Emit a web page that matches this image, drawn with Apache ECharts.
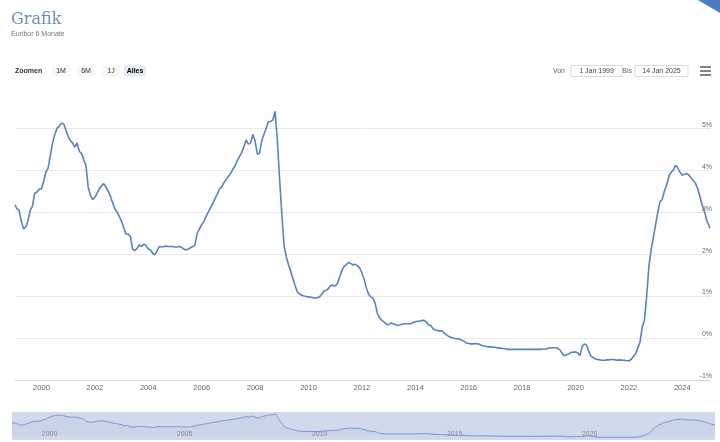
<!DOCTYPE html>
<html>
<head>
<meta charset="utf-8">
<script src="https://cdn.jsdelivr.net/npm/echarts@6/dist/echarts.min.js"></script>
<style>
  html, body { margin: 0; padding: 0; background: #fff; }
  #chart { width: 720px; height: 442px; }
</style>
</head>
<body>
<div id="chart"></div>
<script>
// Euribor 6 Monate, Monatswerte ab Jan 1999 (letzter Wert: 14 Jan 2025)
const rates = [
  3.17, 3.08, 3.04, 2.78, 2.60, 2.64, 2.80, 3.05, 3.15, 3.45, 3.48, 3.55,        // 1999
  3.55, 3.75, 3.95, 4.05, 4.35, 4.65, 4.85, 5.00, 5.05, 5.12, 5.10, 4.95,        // 2000
  4.80, 4.70, 4.65, 4.55, 4.65, 4.45, 4.40, 4.25, 4.10, 3.60, 3.40, 3.30,        // 2001
  3.35, 3.45, 3.55, 3.62, 3.68, 3.60, 3.50, 3.38, 3.22, 3.08, 3.00, 2.90,        // 2002
  2.78, 2.62, 2.48, 2.48, 2.42, 2.12, 2.08, 2.14, 2.22, 2.18, 2.24, 2.20,        // 2003
  2.12, 2.10, 2.02, 1.98, 2.08, 2.18, 2.17, 2.18, 2.19, 2.18, 2.18, 2.18,        // 2004
  2.17, 2.17, 2.18, 2.16, 2.12, 2.10, 2.12, 2.15, 2.18, 2.22, 2.50, 2.60,        // 2005
  2.70, 2.78, 2.90, 3.00, 3.10, 3.20, 3.32, 3.42, 3.55, 3.60, 3.70, 3.78,        // 2006
  3.85, 3.92, 4.02, 4.10, 4.22, 4.32, 4.42, 4.55, 4.72, 4.62, 4.65, 4.85,        // 2007
  4.70, 4.38, 4.40, 4.70, 4.85, 5.00, 5.15, 5.16, 5.20, 5.40, 4.70, 3.80,        // 2008
  2.95, 2.20, 1.95, 1.75, 1.60, 1.42, 1.25, 1.10, 1.05, 1.02, 1.00, 0.99,        // 2009
  0.98, 0.97, 0.96, 0.95, 0.96, 0.98, 1.05, 1.12, 1.14, 1.18, 1.25, 1.26,        // 2010
  1.24, 1.30, 1.45, 1.60, 1.70, 1.75, 1.80, 1.78, 1.74, 1.76, 1.72, 1.67,        // 2011
  1.55, 1.40, 1.20, 1.05, 0.98, 0.95, 0.82, 0.58, 0.48, 0.42, 0.38, 0.33,        // 2012
  0.32, 0.36, 0.34, 0.32, 0.30, 0.31, 0.33, 0.34, 0.34, 0.34, 0.34, 0.37,        // 2013
  0.39, 0.40, 0.40, 0.42, 0.42, 0.38, 0.31, 0.30, 0.22, 0.19, 0.18, 0.17,        // 2014
  0.17, 0.12, 0.08, 0.04, 0.02, 0.00, -0.01, -0.02, -0.03, -0.05, -0.08, -0.12,  // 2015
  -0.13, -0.14, -0.14, -0.13, -0.14, -0.15, -0.18, -0.19, -0.20, -0.21, -0.21, -0.22, // 2016
  -0.22, -0.24, -0.24, -0.25, -0.25, -0.26, -0.27, -0.27, -0.27, -0.27, -0.27, -0.27, // 2017
  -0.27, -0.27, -0.27, -0.27, -0.27, -0.27, -0.27, -0.27, -0.27, -0.26, -0.26, -0.26, // 2018
  -0.24, -0.23, -0.23, -0.23, -0.24, -0.28, -0.36, -0.42, -0.40, -0.38, -0.34, -0.34, // 2019
  -0.33, -0.35, -0.42, -0.20, -0.14, -0.17, -0.32, -0.43, -0.47, -0.50, -0.51, -0.52, // 2020
  -0.53, -0.53, -0.52, -0.52, -0.51, -0.51, -0.52, -0.53, -0.52, -0.53, -0.53, -0.54, // 2021
  -0.54, -0.51, -0.44, -0.38, -0.24, -0.10, 0.25, 0.42, 1.00, 1.70, 2.10, 2.40,  // 2022
  2.70, 3.00, 3.25, 3.30, 3.50, 3.65, 3.85, 3.95, 4.00, 4.12, 4.05, 3.95,        // 2023
  3.88, 3.90, 3.92, 3.88, 3.82, 3.75, 3.68, 3.55, 3.35, 3.15, 3.00, 2.80,        // 2024
  2.62                                                                           // 14 Jan 2025
];

const axisYears = [2000, 2002, 2004, 2006, 2008, 2010, 2012, 2014, 2016, 2018, 2020, 2022, 2024];
const navYears = [2000, 2005, 2010, 2015, 2020];
const rangeButtons = ['1M', '6M', '1J', 'Alles'];

const times = rates.map((v, i) => {
  if (i === 0) return Date.UTC(1999, 0, 4);
  if (i === rates.length - 1) return Date.UTC(2025, 0, 14);
  return Date.UTC(1999, i, 1);
});
const points = rates.map((v, i) => [times[i], v]);
const yearTime = y => Date.UTC(y, 0, 1);
const yearLabel = v => String(new Date(v).getUTCFullYear());

const font = 'Liberation Sans';
const chart = echarts.init(document.getElementById('chart'), null, { renderer: 'canvas' });

// range selector
const graphics = [
  { type: 'polygon', shape: { points: [[698, 0], [720, 0], [720, 13]] }, style: { fill: '#4a7cc0' } },
  { type: 'text', x: 15, y: 71, style: { text: 'Zoomen', font: 'bold 7px ' + font, fill: '#333', verticalAlign: 'middle' } }
];
const btnX = [61, 86, 111, 135];
rangeButtons.forEach((b, i) => {
  const sel = b === 'Alles';
  const w = sel ? 22 : 18;
  graphics.push({ type: 'rect', shape: { x: btnX[i] - w / 2, y: 65.5, width: w, height: 11, r: 1 },
    style: { fill: sel ? '#e6ebf5' : '#f7f7f7' } });
  graphics.push({ type: 'text', x: btnX[i], y: 71,
    style: { text: b, font: (sel ? 'bold ' : '') + '7px ' + font, fill: sel ? '#000' : '#333', align: 'center', verticalAlign: 'middle' } });
});
graphics.push(
  { type: 'text', x: 565, y: 71, style: { text: 'Von', font: '7px ' + font, fill: '#666', align: 'right', verticalAlign: 'middle' } },
  { type: 'rect', shape: { x: 571, y: 65.5, width: 51, height: 11 }, style: { fill: 'none', stroke: '#dcdcdc', lineWidth: 1 } },
  { type: 'text', x: 596.5, y: 71, style: { text: '1 Jan 1999', font: '7px ' + font, fill: '#444', align: 'center', verticalAlign: 'middle' } },
  { type: 'text', x: 632, y: 71, style: { text: 'Bis', font: '7px ' + font, fill: '#666', align: 'right', verticalAlign: 'middle' } },
  { type: 'rect', shape: { x: 635, y: 65.5, width: 53, height: 11 }, style: { fill: 'none', stroke: '#dcdcdc', lineWidth: 1 } },
  { type: 'text', x: 661.5, y: 71, style: { text: '14 Jan 2025', font: '7px ' + font, fill: '#444', align: 'center', verticalAlign: 'middle' } }
);
[67, 71, 75].forEach(y => {
  graphics.push({ type: 'line', shape: { x1: 700, y1: y, x2: 711, y2: y }, style: { stroke: '#666', lineWidth: 1.6 } });
});

const option = {
  animation: false,
  backgroundColor: '#fff',
  title: {
    text: 'Grafik',
    subtext: 'Euribor 6 Monate',
    left: 6,
    top: 7,
    itemGap: 3,
    textStyle: { fontFamily: 'DejaVu Serif', fontWeight: 'normal', fontSize: 16, color: '#6d8ebd' },
    subtextStyle: { fontFamily: font, fontSize: 7, color: '#777' }
  },
  graphic: graphics,
  grid: [
    { left: 15, right: 10, top: 103, bottom: 62 },
    { left: 12, right: 5, top: 412, height: 28, show: true, backgroundColor: 'rgba(102,133,194,0.3)', borderWidth: 0 }
  ],
  xAxis: [
    {
      type: 'value', gridIndex: 0, min: times[0], max: times[times.length - 1],
      axisLine: { onZero: false, lineStyle: { color: '#ccd6eb' } },
      axisTick: { show: false },
      splitLine: { show: false },
      axisLabel: {
        customValues: axisYears.map(yearTime), formatter: yearLabel,
        color: '#666', fontSize: 7.5, fontFamily: font, margin: 4
      }
    },
    {
      type: 'value', gridIndex: 1, min: times[0], max: times[times.length - 1],
      axisLine: { show: false },
      axisTick: { show: false },
      splitLine: { show: false },
      axisLabel: {
        inside: true, customValues: navYears.map(yearTime), formatter: yearLabel,
        align: 'left', padding: [0, 0, 0, 3], color: '#8a8a8a', fontSize: 7, fontFamily: font, margin: 2
      }
    }
  ],
  yAxis: [
    {
      type: 'value', gridIndex: 0, position: 'right', min: -1, max: 5.6, interval: 1,
      axisLine: { show: false },
      axisTick: { show: false },
      splitLine: { lineStyle: { color: '#e9e9e9' }, showMaxLine: false },
      axisLabel: {
        inside: true, showMaxLabel: false, formatter: '{value}%', verticalAlign: 'bottom',
        margin: -2, color: '#666', fontSize: 7, fontFamily: font
      }
    },
    { type: 'value', gridIndex: 1, min: -1.2, max: 5.9, show: false }
  ],
  series: [
    {
      name: 'Euribor 6 Monate', type: 'line', data: points,
      showSymbol: false, silent: true,
      lineStyle: { color: '#5584c6', width: 1.6 },
      itemStyle: { color: '#5584c6' }
    },
    {
      type: 'line', xAxisIndex: 1, yAxisIndex: 1, data: points,
      showSymbol: false, silent: true, smooth: true,
      lineStyle: { color: '#7593cc', width: 1 },
      areaStyle: { color: 'rgba(69,114,167,0.08)' }
    }
  ]
};
chart.setOption(option);
</script>
</body>
</html>
